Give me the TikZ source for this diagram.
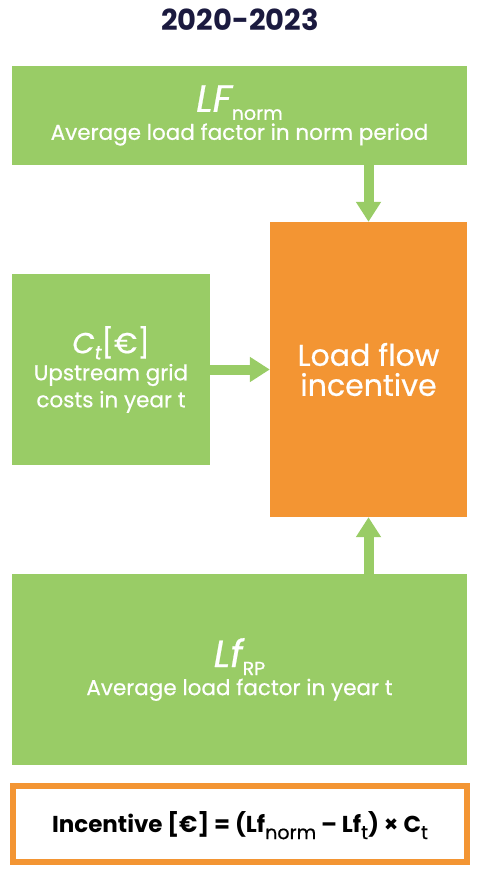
\documentclass[tikz,border=0pt]{standalone}
\usepackage{fontspec}
\setmainfont{Poppins}[UprightFeatures={FakeBold=0.6},ItalicFeatures={FakeBold=0.6}]
\usetikzlibrary{arrows.meta}
\definecolor{boxgreen}{RGB}{153,204,102}
\definecolor{boxorange}{RGB}{243,149,51}
\definecolor{titlenavy}{RGB}{27,26,63}
\newcommand{\subdrop}[2]{\raisebox{-#1}[0pt][0pt]{\fontsize{19}{19}\selectfont #2}}
\begin{document}
\begin{tikzpicture}[x=1pt,y=-1pt,
  greenbox/.style={fill=boxgreen, text=white, inner sep=0pt, align=center, font=\fontsize{21.5}{28}\selectfont},
  orangebox/.style={fill=boxorange, text=white, inner sep=0pt, align=center, font=\fontsize{30}{30}\selectfont},
  formulabox/.style={draw=boxorange, line width=6pt, inner sep=0pt, font=\bfseries\fontsize{23}{23}\selectfont},
  flow/.style={draw=boxgreen, line width=10pt, -{Triangle[width=24pt,length=20pt]}}]
\useasboundingbox (0,0) rectangle (480,874);

%title
\node[text=titlenavy, font=\bfseries\fontsize{29}{29}\selectfont] (title) at (240,19.5) {2020-2023};

%boxes
\node[greenbox, minimum width=455pt, minimum height=99pt] (lfnorm) at (239.5,115.5)
  {{\fontsize{38}{28}\selectfont\itshape LF\subdrop{8pt}{\upshape norm}}\\Average load factor in norm period};
\node[orangebox, minimum width=197pt, minimum height=295pt] (incentive) at (368.5,369.5)
  {Load flow\\incentive};
\node[greenbox, minimum width=198pt, minimum height=191pt, font=\fontsize{21.5}{27}\selectfont] (cost) at (111,369.5)
  {{\fontsize{29}{27}\selectfont\itshape C\subdrop{6pt}{t}\upshape[€]}\\Upstream grid\\costs in year t};
\node[greenbox, minimum width=455pt, minimum height=191pt] (lfrp) at (239.5,669.5)
  {{\fontsize{38}{28}\selectfont\itshape Lf\subdrop{8pt}{\upshape RP}}\\Average load factor in year t};

%formel
\node[formulabox, minimum width=454pt, minimum height=76pt] (formula) at (240,824)
  {Incentive [€] = (Lf\subdrop{7pt}{\mdseries norm} – Lf\subdrop{7pt}{\mdseries t}) × C\subdrop{7pt}{\mdseries t}};

%pilar
\draw[flow] (lfnorm.south -| incentive.north) -- (incentive.north);
\draw[flow] (cost.east) -- (incentive.west |- cost.east);
\draw[flow] (lfrp.north -| incentive.south) -- (incentive.south);

\end{tikzpicture}
\end{document}
